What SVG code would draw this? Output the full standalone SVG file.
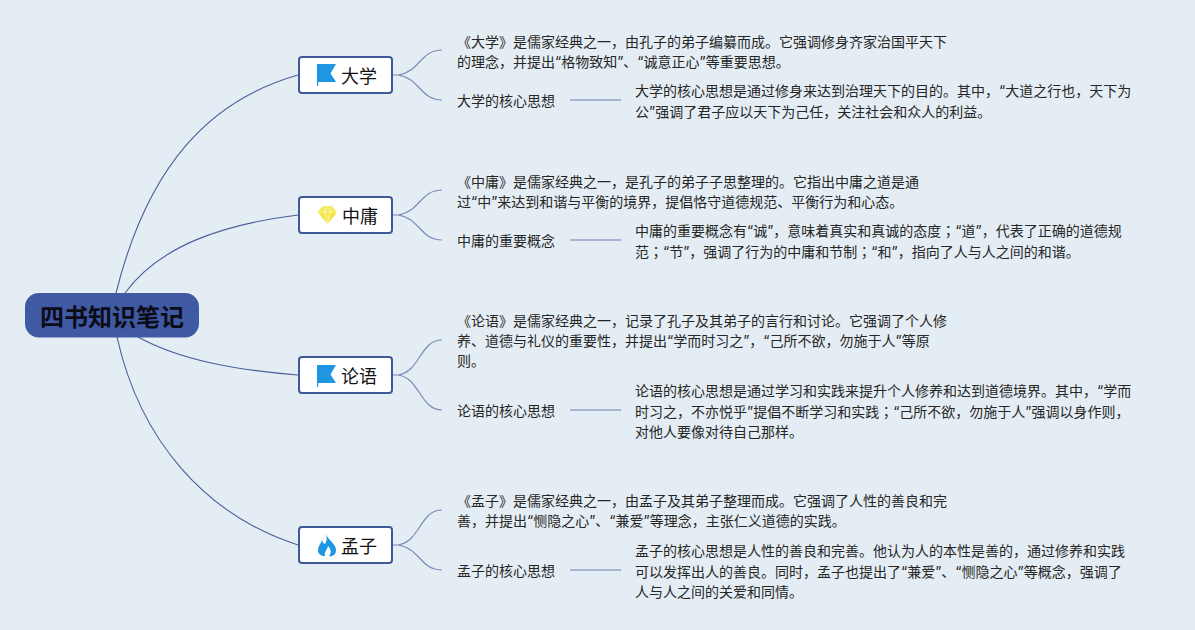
<svg xmlns="http://www.w3.org/2000/svg" width="1195" height="630" viewBox="0 0 1195 630">
<style>
text{font-family:"Inter","Noto Sans CJK SC",sans-serif;fill:#262626}
.t{font-size:14px}
.b{font-size:18px;fill:#111}
.r{font-size:24px;font-weight:700;fill:#0c0c18}
.s{font-family:"Noto Sans CJK TC",sans-serif}
.node{fill:#fff;stroke:#3f5899;stroke-width:2}
.c1{fill:none;stroke:#4a5f9c;stroke-width:1.1}
.c2{fill:none;stroke:#7b8cb8;stroke-width:1.2}
.c3{fill:none;stroke:#93a3c8;stroke-width:1.5}
.blue{fill:#1e96e2}
</style>
<defs>
<g id="flag"><path class="blue" d="M0 0H19L13.500 9.500L19 18H1.200V22H0Z"/></g>
</defs>
<rect width="1195" height="630" fill="#e4edf3"/>
<g id="connectors">
<path class="c1" d="M116 293C148 165 210 100 298 75"/>
<path class="c1" d="M125 293C160 245 225 224 298 215"/>
<path class="c1" d="M138 337C180 360 235 370 298 375"/>
<path class="c1" d="M117 337C140 440 205 515 298 545"/>
<path class="c2" d="M392 75H398C420 72 420 50 442 50M398 75C420 78 420 100 442 100"/>
<path class="c2" d="M392 215H398C420 212 420 190 442 190M398 215C420 218 420 240 442 240"/>
<path class="c2" d="M392 375H398C420 372 420 340 442 340M398 375C420 378 420 410 442 410"/>
<path class="c2" d="M392 545H398C420 542 420 510 442 510M398 545C420 548 420 570 442 570"/>
<path class="c3" d="M570 100H621M570 240H621M570 410H621M570 570H621"/>
</g>
<g id="root"><rect x="25" y="293" width="174" height="44.500" rx="14" fill="#3f5aa3"/><text class="r" x="40" y="326">四书知识笔记</text></g>
<g id="n-daxue"><rect class="node" x="299" y="57" width="93" height="36" rx="3"/><use href="#flag" x="317" y="64"/><text class="b" x="341" y="83">大学</text></g>
<g id="n-zhongyong"><rect class="node" x="299" y="197" width="93" height="36" rx="3"/><path fill="#f4e64a" d="M323 206H332L336.500 212L336 214L327.500 224L319 214L317.500 212Z"/><path d="M318 212H336M323 206L325 212L327.500 223L330 212L332 206M327.500 206L325 212M327.500 206L330 212" fill="none" stroke="#fbf6a8" stroke-width="1"/><text class="b" x="342" y="223">中庸</text></g>
<g id="n-lunyu"><rect class="node" x="299" y="357" width="93" height="36" rx="3"/><use href="#flag" x="317" y="365"/><text class="b" x="341" y="383">论语</text></g>
<g id="n-mengzi"><rect class="node" x="299" y="527" width="93" height="36" rx="3"/><path class="blue" d="M326 534C328 540 336 544 336 550C336 555 332 557 329 556C332 553 331 549 328 546C327 550 324 552 325 556C321 556 318 554 318 550C318 546 321 544 322 540C323 543 324 544 325 544C327 541 327 538 326 534Z"/><text class="b" x="341" y="553">孟子</text></g>
<g id="t-daxue">
<text class="t" x="457" y="47">《大学》是儒家经典之一，由孔子的弟子编纂而成。它强调修身齐家治国平天下</text>
<text class="t" x="457" y="67">的理念，并提出“格物致知”、“诚意正心”等重要思想。</text>
<text class="t" x="457" y="106">大学的核心思想</text>
<text class="t" x="635" y="96">大学的核心思想是通过修身来达到治理天下的目的。其中，“大道之行也，天下为</text>
<text class="t" x="635" y="117">公”强调了君子应以天下为己任，关注社会和众人的利益。</text>
</g>
<g id="t-zhongyong">
<text class="t" x="457" y="187">《中庸》是儒家经典之一，是孔子的弟子子思整理的。它指出中庸之道是通</text>
<text class="t" x="457" y="207">过“中”来达到和谐与平衡的境界，提倡恪守道德规范、平衡行为和心态。</text>
<text class="t" x="457" y="246">中庸的重要概念</text>
<text class="t" x="635" y="236">中庸的重要概念有“诚”，意味着真实和真诚的态度<tspan class="s">；</tspan>“道”，代表了正确的道德规</text>
<text class="t" x="635" y="257">范<tspan class="s">；</tspan>“节”，强调了行为的中庸和节制<tspan class="s">；</tspan>“和”，指向了人与人之间的和谐。</text>
</g>
<g id="t-lunyu">
<text class="t" x="457" y="326">《论语》是儒家经典之一，记录了孔子及其弟子的言行和讨论。它强调了个人修</text>
<text class="t" x="457" y="346">养、道德与礼仪的重要性，并提出“学而时习之”，“己所不欲，勿施于人”等原</text>
<text class="t" x="457" y="366">则。</text>
<text class="t" x="457" y="416">论语的核心思想</text>
<text class="t" x="635" y="396">论语的核心思想是通过学习和实践来提升个人修养和达到道德境界。其中，“学而</text>
<text class="t" x="635" y="417">时习之，不亦悦乎”提倡不断学习和实践<tspan class="s">；</tspan>“己所不欲，勿施于人”强调以身作则，</text>
<text class="t" x="635" y="437">对他人要像对待自己那样。</text>
</g>
<g id="t-mengzi">
<text class="t" x="457" y="506">《孟子》是儒家经典之一，由孟子及其弟子整理而成。它强调了人性的善良和完</text>
<text class="t" x="457" y="526">善，并提出“恻隐之心”、“兼爱”等理念，主张仁义道德的实践。</text>
<text class="t" x="457" y="576">孟子的核心思想</text>
<text class="t" x="635" y="556">孟子的核心思想是人性的善良和完善。他认为人的本性是善的，通过修养和实践</text>
<text class="t" x="635" y="577">可以发挥出人的善良。同时，孟子也提出了“兼爱”、“恻隐之心”等概念，强调了</text>
<text class="t" x="635" y="597">人与人之间的关爱和同情。</text>
</g>
</svg>
